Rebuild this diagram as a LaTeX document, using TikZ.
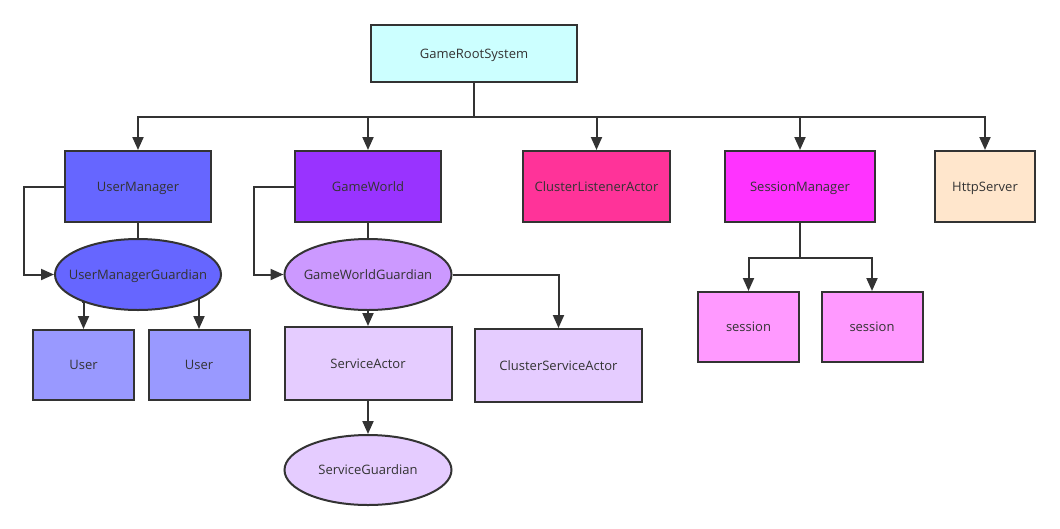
\documentclass[tikz,border=0pt]{standalone}
\usepackage{fontspec}
\setmainfont{Open Sans}
\usetikzlibrary{positioning, arrows.meta, shapes.geometric}
\definecolor{lineDark}{RGB}{51, 51, 51}
\definecolor{rootBg}{RGB}{204, 255, 255}
\definecolor{userMgrBg}{RGB}{102, 102, 255}
\definecolor{userBg}{RGB}{153, 153, 255}
\definecolor{worldBg}{RGB}{153, 51, 255}
\definecolor{worldGuardBg}{RGB}{204, 153, 255}
\definecolor{serviceBg}{RGB}{229, 204, 255}
\definecolor{clusterBg}{RGB}{255, 51, 153}
\definecolor{sessionMgrBg}{RGB}{255, 51, 255}
\definecolor{sessionBg}{RGB}{255, 153, 255}
\definecolor{httpBg}{RGB}{255, 230, 204}

\begin{document}
\begin{tikzpicture}[
    x=1pt, y=-1pt,
    font=\fontsize{13}{15}\selectfont,
    box/.style={
        draw=lineDark,
        rectangle,
        line width=2pt,
        align=center,
        inner sep=2pt,
        text depth=0pt,
        minimum width=146pt,
        minimum height=71pt,
        text=lineDark
    },
    oval/.style={
        draw=lineDark,
        ellipse,
        line width=2pt,
        inner xsep=-30pt,
        inner ysep=0pt,
        text depth=0pt,
        minimum width=167pt,
        minimum height=71pt,
        text=lineDark
    },
    link/.style={
        draw=lineDark,
        line width=2pt
    },
    arrow/.style={
        link,
        -{Triangle[length=13pt,width=11pt]}
    }
]
\useasboundingbox (0,0) rectangle (1060,528);

% 1. Root and first level
\node[box, fill=rootBg, minimum width=206pt, minimum height=57pt] (root) at (474,53.5) {GameRootSystem};
\coordinate (bus) at (474,117);

\node[box, fill=userMgrBg] (usermgr) at (138,186.5) {UserManager};
\node[box, fill=worldBg] (world) at (368,186.5) {GameWorld};
\node[box, fill=clusterBg, minimum width=147pt] (listener) at (596.5,186.5) {ClusterListenerActor};
\node[box, fill=sessionMgrBg, minimum width=150pt] (sessionmgr) at (800,186.5) {SessionManager};
\node[box, fill=httpBg, minimum width=100pt] (http) at (985,186.5) {HttpServer};

\draw[arrow] (root) -- (bus) -| (usermgr);
\draw[arrow] (root) -- (bus) -| (world);
\draw[arrow] (root) -- (bus) -| (listener);
\draw[arrow] (root) -- (bus) -| (sessionmgr);
\draw[arrow] (root) -- (bus) -| (http);

% 2. User branch
\node[oval, fill=userMgrBg, minimum width=166pt, below=15pt of usermgr] (usermgrguard) {UserManagerGuardian};
\node[box, fill=userBg, minimum width=101pt, minimum height=70pt] (user1) at (83.5,365) {User};
\node[box, fill=userBg, minimum width=101pt, minimum height=70pt] (user2) at (199,365) {User};

\draw[link] (usermgr) -- (usermgrguard);
\draw[arrow] (usermgr.west) -- ++(-40,0) |- (usermgrguard.west);
\draw[arrow] (usermgrguard.-154) -- (usermgrguard.-154 -| user1.north) -- (user1.north);
\draw[arrow] (usermgrguard.-22) -- (usermgrguard.-22 -| user2.north) -- (user2.north);

% 3. World branch
\node[oval, fill=worldGuardBg, below=15pt of world] (worldguard) {GameWorldGuardian};
\node[box, fill=serviceBg, minimum width=167pt, minimum height=73pt] (service) at (368,363.5) {ServiceActor};
\node[box, fill=serviceBg, minimum width=167pt, minimum height=73pt] (clusterservice) at (558.5,365.5) {ClusterServiceActor};
\node[oval, fill=serviceBg, minimum height=70pt, below=33pt of service] (serviceguard) {ServiceGuardian};

\draw[link] (world) -- (worldguard);
\draw[arrow] (world.west) -- ++(-40,0) |- (worldguard.west);
\draw[arrow] (worldguard) -- (service);
\draw[arrow] (worldguard.east) -| (clusterservice.north);
\draw[arrow] (service) -- (serviceguard);

% 4. Session branch
\coordinate (split) at (800,258);
\node[box, fill=sessionBg, minimum width=101pt, minimum height=70pt] (session1) at (748.5,327) {session};
\node[box, fill=sessionBg, minimum width=101pt, minimum height=70pt] (session2) at (872,327) {session};

\draw[arrow] (sessionmgr) -- (split) -| (session1);
\draw[arrow] (sessionmgr) -- (split) -| (session2);

\end{tikzpicture}
\end{document}
